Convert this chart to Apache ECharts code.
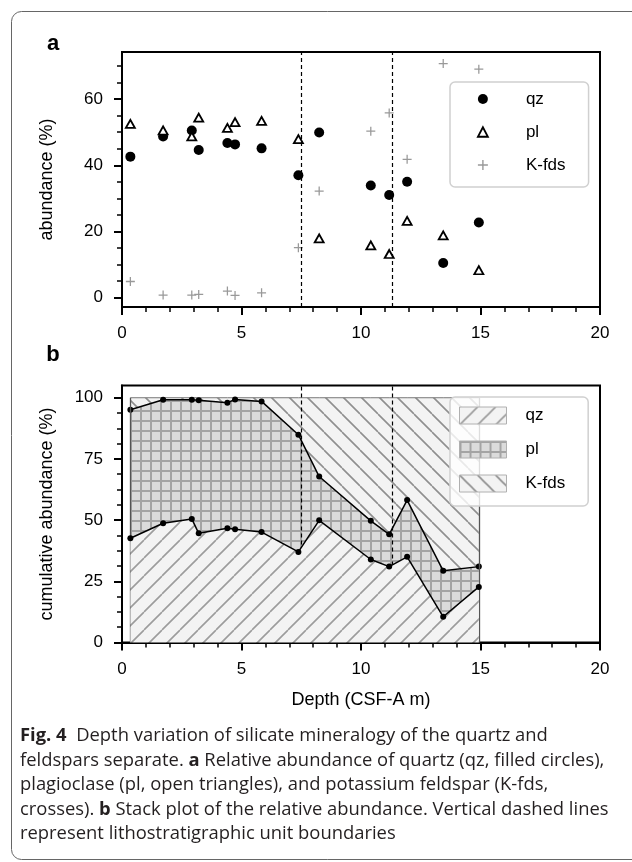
<!DOCTYPE html>
<html>
<head>
<meta charset="utf-8">
<script src="https://cdn.jsdelivr.net/npm/echarts@6/dist/echarts.min.js"></script>
<style>
  html, body { margin: 0; padding: 0; background: #fff; }
  #main { width: 632px; height: 862px; }
</style>
</head>
<body>
<div id="main"></div>
<script>
// sample depths (CSF-A m) and relative abundance (%)
var depth = [0.35, 1.72, 2.92, 3.21, 4.41, 4.73, 5.84, 7.38, 8.25, 10.41, 11.18, 11.93, 13.44, 14.93];
var qz = [42.6, 48.7, 50.5, 44.6, 46.7, 46.3, 45.1, 37.0, 49.9, 33.9, 31.0, 35.0, 10.5, 22.7];
var pl = [52.5, 50.5, 48.7, 54.4, 51.3, 53.0, 53.4, 47.9, 17.9, 15.8, 13.2, 23.2, 18.8, 8.3];
var kfds = [4.9, 0.8, 0.8, 1.0, 2.0, 0.7, 1.5, 15.1, 32.2, 50.3, 55.8, 41.8, 70.7, 69.0];
// lithostratigraphic unit boundaries
var unitBounds = [7.5, 11.3];
// tick labels
var aTicks = [0, 20, 40, 60];
var bTicks = [0, 25, 50, 75, 100];

var FONT = '"Liberation Sans", Arial, sans-serif';

function pairs(ys) {
    return depth.map(function (d, i) { return [d, ys[i]]; });
}
// value first, depth second: the stack then runs on the value dimension
function stackPairs(ys) {
    return depth.map(function (d, i) { return [ys[i], d]; });
}
function steps(lo, hi, st) {
    var out = [];
    for (var v = lo; v <= hi + 1e-9; v += st) out.push(+v.toFixed(3));
    return out;
}

// hatch fills
function hatch(dir, bg, fg, s, w) {
    var c = document.createElement('canvas');
    c.width = s; c.height = s;
    var g = c.getContext('2d');
    g.fillStyle = bg;
    g.fillRect(0, 0, s, s);
    g.fillStyle = fg;
    g.strokeStyle = fg;
    g.lineWidth = w;
    if (dir === '+') {
        g.fillRect(0, 0, s, w);
        g.fillRect(0, 0, w, s);
    } else {
        g.beginPath();
        for (var k = -1; k <= 1; k++) {
            if (dir === '/') {
                g.moveTo(k * s, s); g.lineTo((k + 1) * s, 0);
            } else {
                g.moveTo(k * s, 0); g.lineTo((k + 1) * s, s);
            }
        }
        g.stroke();
    }
    return {image: c, repeat: 'repeat'};
}
var qzFill = hatch('/', '#f3f3f3', '#9c9c9c', 18, 1.6);
var plFill = hatch('+', '#dbdbdb', '#a4a4a4', 10, 2);
var kFill = hatch('\\', '#f3f3f3', '#8f8f8f', 18, 1.6);

var crossPath = 'path://M-0.14,-1L0.14,-1L0.14,-0.14L1,-0.14L1,0.14L0.14,0.14L0.14,1L-0.14,1L-0.14,0.14L-1,0.14L-1,-0.14L-0.14,-0.14Z';

function xAx(grid, name) {
    return {
        type: 'value', gridIndex: grid, min: 0, max: 20, interval: 5, position: 'bottom',
        name: name || '', nameLocation: 'middle', nameGap: 49,
        nameTextStyle: {fontSize: 18, color: '#000', fontFamily: FONT},
        axisLine: {show: true, onZero: false, lineStyle: {color: '#000', width: 2}},
        axisTick: {show: true, length: 8, lineStyle: {color: '#000', width: 2}},
        minorTick: {show: true, splitNumber: 5, length: 5, lineStyle: {color: '#000', width: 1.5}},
        axisLabel: {color: '#000', fontSize: 17, fontFamily: FONT, margin: 18},
        splitLine: {show: false}, minorSplitLine: {show: false}
    };
}
function yAx(grid, min, max, ticks, name) {
    return {
        type: 'value', gridIndex: grid, min: min, max: max, position: 'left',
        name: name, nameLocation: 'middle', nameGap: 66,
        nameTextStyle: {fontSize: 18, color: '#000', fontFamily: FONT},
        axisLine: {show: true, onZero: false, lineStyle: {color: '#000', width: 2}},
        axisTick: {show: true, length: 8, customValues: ticks, lineStyle: {color: '#000', width: 2}},
        axisLabel: {color: '#000', fontSize: 17, fontFamily: FONT, margin: 19, customValues: ticks},
        splitLine: {show: false}
    };
}
function yMinor(grid, min, max, ticks) {
    return {
        type: 'value', gridIndex: grid, min: min, max: max, position: 'left',
        axisLine: {show: false, onZero: false},
        axisTick: {show: true, length: 5, customValues: ticks, lineStyle: {color: '#000', width: 1.5}},
        axisLabel: {show: false},
        splitLine: {show: false}
    };
}

var chart = echarts.init(document.getElementById('main'), null, {renderer: 'canvas'});

var option = {
    animation: false,
    backgroundColor: '#fff',
    textStyle: {fontFamily: FONT},
    grid: [
        {left: 122, top: 52, width: 478, height: 255, show: true, borderColor: '#000', borderWidth: 2,
            backgroundColor: 'transparent', outerBoundsMode: 'none'},
        {left: 122, top: 385.5, width: 478, height: 257, show: true, borderColor: '#000', borderWidth: 2,
            backgroundColor: 'transparent', outerBoundsMode: 'none'}
    ],
    xAxis: [xAx(0), xAx(1, 'Depth (CSF-A m)')],
    yAxis: [
        yAx(0, -2.8, 74.2, aTicks, 'abundance (%)'),
        yMinor(0, -2.8, 74.2, steps(0, 70, 5)),
        yAx(1, 0, 105, bTicks, 'cumulative abundance (%)'),
        yMinor(1, 0, 105, steps(0, 100, 6.25))
    ],
    legend: [
        {
            orient: 'vertical', left: 450, top: 82, z: 10, selectedMode: false,
            padding: [8.5, 23, 13.5, 27], itemWidth: 10, itemHeight: 10, itemGap: 16,
            backgroundColor: 'rgba(255,255,255,0.8)', borderColor: '#d0d0d0', borderWidth: 1.5, borderRadius: 5,
            textStyle: {fontSize: 17, lineHeight: 17, color: '#000', fontFamily: FONT, padding: [0, 0, 0, 33]},
            data: [
                {name: 'qz', icon: 'circle', itemStyle: {color: '#000', borderWidth: 0, opacity: 1}},
                {name: 'pl', icon: 'path://M0,-1L0.95,0.8L-0.95,0.8Z', itemStyle: {color: '#fff', borderColor: '#000', borderWidth: 1.8, opacity: 1}},
                {name: 'K-fds', icon: crossPath, itemStyle: {color: '#999', borderWidth: 0, opacity: 1}}
            ]
        },
        {
            orient: 'vertical', left: 450, top: 397, z: 10, selectedMode: false,
            padding: [9.5, 23, 13.5, 9], itemWidth: 47, itemHeight: 17, itemGap: 16,
            backgroundColor: 'rgba(255,255,255,0.8)', borderColor: '#d0d0d0', borderWidth: 1.5, borderRadius: 5,
            textStyle: {fontSize: 17, color: '#000', fontFamily: FONT, padding: [0, 0, 0, 14]},
            data: [
                {name: 'qz', icon: 'rect', itemStyle: {color: qzFill, borderColor: '#b0b0b0', borderWidth: 1}},
                {name: 'pl', icon: 'rect', itemStyle: {color: plFill, borderColor: '#b0b0b0', borderWidth: 1}},
                {name: 'K-fds', icon: 'rect', itemStyle: {color: kFill, borderColor: '#b0b0b0', borderWidth: 1}}
            ]
        }
    ],
    series: [
        // panel a
        {
            name: 'qz', type: 'scatter', xAxisIndex: 0, yAxisIndex: 0, z: 3,
            symbol: 'circle', symbolSize: 10, itemStyle: {color: '#000', opacity: 1},
            data: pairs(qz),
            markLine: {
                silent: true, symbol: 'none', label: {show: false},
                lineStyle: {color: '#000', width: 1.2, type: [4, 3]},
                data: unitBounds.map(function (v) { return {xAxis: v}; })
            }
        },
        {
            name: 'pl', type: 'scatter', xAxisIndex: 0, yAxisIndex: 0, z: 4,
            symbol: 'triangle', symbolSize: [9, 8],
            itemStyle: {color: '#fff', borderColor: '#000', borderWidth: 1.8, opacity: 1},
            data: pairs(pl)
        },
        {
            name: 'K-fds', type: 'scatter', xAxisIndex: 0, yAxisIndex: 0, z: 4,
            symbol: crossPath, symbolSize: 9, itemStyle: {color: '#999', opacity: 1},
            data: pairs(kfds)
        },
        // panel b (stack)
        {
            name: 'qz', type: 'line', xAxisIndex: 1, yAxisIndex: 2, stack: 'cum', z: 5,
            encode: {x: 1, y: 0},
            areaStyle: {color: qzFill, opacity: 1},
            lineStyle: {color: '#000', width: 1.5},
            symbol: 'circle', symbolSize: 6, showSymbol: true, itemStyle: {color: '#000'},
            data: stackPairs(qz),
            markLine: {
                silent: true, symbol: 'none', label: {show: false},
                lineStyle: {color: '#000', width: 1.2, type: [4, 3]},
                data: unitBounds.map(function (v) { return {xAxis: v}; }).concat([0, depth.length - 1].map(function (i) {
                    var top = qz[i] + pl[i] + kfds[i];
                    return [
                        {coord: [depth[i], 0], lineStyle: {color: '#555', width: 1.3, type: 'solid'}},
                        {coord: [depth[i], top]}
                    ];
                }))
            }
        },
        {
            name: 'pl', type: 'line', xAxisIndex: 1, yAxisIndex: 2, stack: 'cum', z: 4,
            encode: {x: 1, y: 0},
            areaStyle: {color: plFill, opacity: 1},
            lineStyle: {color: '#000', width: 1.5},
            symbol: 'circle', symbolSize: 6, showSymbol: true, itemStyle: {color: '#000'},
            data: stackPairs(pl)
        },
        {
            name: 'K-fds', type: 'line', xAxisIndex: 1, yAxisIndex: 2, stack: 'cum', z: 3,
            encode: {x: 1, y: 0},
            areaStyle: {color: kFill, opacity: 1},
            lineStyle: {color: '#777', width: 1},
            symbol: 'none', showSymbol: false,
            data: stackPairs(kfds)
        }
    ],
    graphic: [
        {type: 'rect', silent: true, z: -10, shape: {x: 11.5, y: 11.5, width: 680, height: 848, r: 10},
            style: {fill: 'none', stroke: '#666', lineWidth: 1}},
        {type: 'text', x: 53, y: 44, silent: true,
            style: {text: 'a', fontSize: 22, fontWeight: 'bold', fontFamily: FONT, fill: '#000', align: 'center', verticalAlign: 'middle'}},
        {type: 'text', x: 53, y: 355, silent: true,
            style: {text: 'b', fontSize: 22, fontWeight: 'bold', fontFamily: FONT, fill: '#000', align: 'center', verticalAlign: 'middle'}},
        {type: 'text', x: 20, y: 724, silent: true,
            style: {
                text: '{b|Fig. 4}  Depth variation of silicate mineralogy of the quartz and\n' +
                    'feldspars separate. {b|a} Relative abundance of quartz (qz, filled circles),\n' +
                    'plagioclase (pl, open triangles), and potassium feldspar (K-fds,\n' +
                    'crosses). {b|b} Stack plot of the relative abundance. Vertical dashed lines\n' +
                    'represent lithostratigraphic unit boundaries',
                fontSize: 18.4, fontFamily: '"Open Sans", sans-serif', lineHeight: 24.5, fill: '#231f20',
                align: 'left', verticalAlign: 'top',
                rich: {b: {fontSize: 18.4, fontWeight: 'bold', fontFamily: '"Open Sans", sans-serif', lineHeight: 24.5, fill: '#231f20'}}
            }}
    ]
};

chart.setOption(option);
</script>
</body>
</html>
